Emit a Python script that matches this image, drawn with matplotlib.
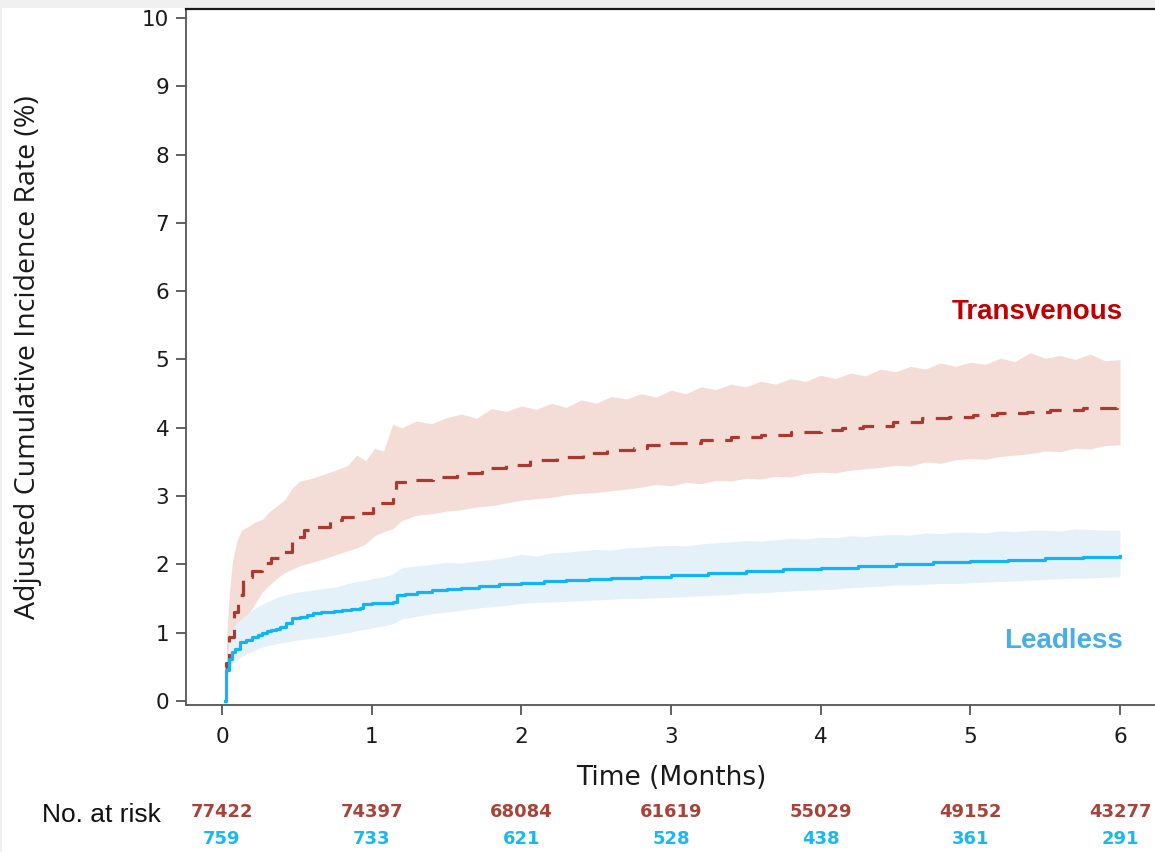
import matplotlib
matplotlib.use("Agg")
import matplotlib.pyplot as plt
from matplotlib.patches import Rectangle

# ---------------- data ----------------
tv_t = [0.02, 0.03, 0.05, 0.08, 0.11, 0.14, 0.2, 0.27, 0.33, 0.39, 0.47, 0.55, 0.61, 0.72, 0.8,
        0.9, 1.01, 1.14, 1.16, 1.26, 1.41, 1.57, 1.74, 1.9, 2.06, 2.24, 2.41, 2.57, 2.75, 2.84,
        3.0, 3.2, 3.4, 3.6, 3.8, 4.0, 4.14, 4.28, 4.48, 4.68, 4.86, 5.02, 5.18, 5.38, 5.53, 5.75,
        5.98, 6.0]
tv_v = [0.5, 0.56, 0.94, 1.3, 1.55, 1.82, 1.9, 2.02, 2.1, 2.18, 2.4, 2.5, 2.55, 2.65, 2.7,
        2.75, 2.9, 3.0, 3.2, 3.23, 3.28, 3.34, 3.41, 3.46, 3.53, 3.57, 3.63, 3.67, 3.7, 3.75,
        3.78, 3.82, 3.86, 3.9, 3.94, 3.97, 4.0, 4.03, 4.08, 4.14, 4.16, 4.19, 4.21, 4.23, 4.26,
        4.29, 4.32, 4.32]

ld_t = [0.02, 0.03, 0.05, 0.07, 0.09, 0.12, 0.16, 0.2, 0.24, 0.27, 0.3, 0.33, 0.36, 0.39, 0.43,
        0.47, 0.52, 0.57, 0.61, 0.66, 0.71, 0.75, 0.8, 0.86, 0.92, 0.94, 1.0, 1.07, 1.14, 1.17,
        1.22, 1.3, 1.4, 1.5, 1.6, 1.72, 1.85, 2.0, 2.15, 2.3, 2.45, 2.6, 2.8, 3.0, 3.25, 3.5,
        3.75, 4.0, 4.25, 4.5, 4.75, 5.0, 5.25, 5.5, 5.75, 6.0]
ld_v = [0.0, 0.45, 0.62, 0.72, 0.76, 0.86, 0.89, 0.93, 0.96, 1.0, 1.02, 1.04, 1.06, 1.08, 1.14,
        1.21, 1.23, 1.26, 1.29, 1.3, 1.31, 1.32, 1.33, 1.35, 1.36, 1.42, 1.43, 1.44, 1.45, 1.55,
        1.57, 1.6, 1.62, 1.64, 1.66, 1.68, 1.71, 1.73, 1.75, 1.77, 1.78, 1.8, 1.82, 1.84, 1.87, 1.9,
        1.93, 1.95, 1.98, 2.0, 2.03, 2.05, 2.07, 2.09, 2.11, 2.12]

# confidence bands (jagged edges)
band_t = [0.03, 0.05, 0.07, 0.1, 0.13, 0.17, 0.22, 0.27, 0.32, 0.37, 0.42, 0.47, 0.52, 0.6, 0.68,
          0.76, 0.84, 0.9, 0.96, 1.02, 1.08, 1.14, 1.2, 1.3, 1.4, 1.5, 1.6, 1.7, 1.8, 1.9,
          2.0, 2.1, 2.2, 2.3, 2.4, 2.5, 2.6, 2.7, 2.8, 2.9, 3.0, 3.1, 3.2, 3.3, 3.4,
          3.5, 3.6, 3.7, 3.8, 3.9, 4.0, 4.1, 4.2, 4.3, 4.4, 4.5, 4.6, 4.7, 4.8, 4.9,
          5.0, 5.1, 5.2, 5.3, 5.4, 5.5, 5.6, 5.7, 5.8, 5.9, 6.0]
tv_hi = [0.95, 1.6, 2.05, 2.35, 2.5, 2.55, 2.62, 2.66, 2.78, 2.86, 2.95, 3.12, 3.22, 3.26, 3.32,
         3.38, 3.45, 3.6, 3.52, 3.7, 3.66, 4.05, 4.0, 4.1, 4.06, 4.15, 4.2, 4.14, 4.28, 4.24,
         4.32, 4.27, 4.36, 4.3, 4.41, 4.36, 4.46, 4.42, 4.5, 4.45, 4.55, 4.5, 4.6, 4.56, 4.64,
         4.6, 4.68, 4.64, 4.72, 4.68, 4.77, 4.72, 4.8, 4.76, 4.86, 4.82, 4.9, 4.86, 4.95, 4.9,
         4.96, 4.93, 5.02, 4.97, 5.1, 5.02, 5.06, 5.0, 5.08, 4.98, 5.0]
tv_lo = [0.55, 0.75, 0.85, 0.95, 1.1, 1.25, 1.42, 1.6, 1.7, 1.8, 1.88, 1.93, 1.98, 2.03, 2.08,
         2.14, 2.2, 2.24, 2.3, 2.42, 2.48, 2.52, 2.64, 2.72, 2.74, 2.78, 2.8, 2.84, 2.86, 2.9,
         2.94, 2.96, 2.98, 3.02, 3.04, 3.05, 3.08, 3.1, 3.13, 3.17, 3.15, 3.2, 3.18, 3.23, 3.22,
         3.26, 3.25, 3.29, 3.28, 3.33, 3.35, 3.34, 3.38, 3.4, 3.42, 3.45, 3.44, 3.5, 3.48, 3.53,
         3.55, 3.54, 3.58, 3.6, 3.62, 3.66, 3.65, 3.7, 3.69, 3.74, 3.75]
ld_hi = [0.5, 0.95, 1.05, 1.15, 1.2, 1.28, 1.36, 1.42, 1.47, 1.52, 1.55, 1.58, 1.6, 1.62, 1.65,
         1.67, 1.72, 1.75, 1.77, 1.8, 1.82, 1.86, 1.95, 1.98, 2.0, 2.03, 2.02, 2.05, 2.07, 2.1,
         2.15, 2.12, 2.17, 2.18, 2.2, 2.22, 2.21, 2.24, 2.25, 2.27, 2.28, 2.27, 2.3, 2.32, 2.33,
         2.35, 2.34, 2.36, 2.38, 2.37, 2.4, 2.39, 2.42, 2.41, 2.43, 2.44, 2.43, 2.46, 2.45, 2.47,
         2.47, 2.46, 2.49, 2.48, 2.5, 2.5, 2.49, 2.52, 2.51, 2.5, 2.5]
ld_lo = [0.3, 0.5, 0.55, 0.6, 0.65, 0.7, 0.75, 0.79, 0.82, 0.84, 0.86, 0.88, 0.9, 0.92, 0.94,
         0.97, 1.0, 1.03, 1.05, 1.08, 1.1, 1.13, 1.2, 1.24, 1.28, 1.3, 1.33, 1.36, 1.38, 1.4,
         1.43, 1.44, 1.45, 1.46, 1.47, 1.48, 1.49, 1.5, 1.5, 1.51, 1.52, 1.53, 1.54, 1.55, 1.56,
         1.58, 1.58, 1.6, 1.61, 1.62, 1.63, 1.64, 1.66, 1.67, 1.68, 1.7, 1.7, 1.71, 1.72, 1.72,
         1.73, 1.74, 1.75, 1.76, 1.77, 1.78, 1.79, 1.8, 1.8, 1.81, 1.82]

x_ticks = [0, 1, 2, 3, 4, 5, 6]
y_ticks = [0, 1, 2, 3, 4, 5, 6, 7, 8, 9, 10]
risk_tv = ["77422", "74397", "68084", "61619", "55029", "49152", "43277"]
risk_ld = ["759", "733", "621", "528", "438", "361", "291"]

# ---------------- style ----------------
C_TV_LINE = "#a83a2f"
C_TV_FILL = "#f5ddd7"
C_TV_LABEL = "#c00000"
C_TV_RISK = "#a8433a"
C_LD_LINE = "#12b5f2"
C_LD_FILL = "#e5f1f9"
C_LD_LABEL = "#47aee6"
C_LD_RISK = "#1ab8f0"

W, H = 1155, 852
fig = plt.figure(figsize=(W / 100, H / 100), dpi=100)
fig.patch.set_facecolor("#f0f0f0")
fig.patches.append(Rectangle((2 / W, 0), 1, (H - 8) / H, transform=fig.transFigure,
                             facecolor="white", edgecolor="none", zorder=-10))

ax_l, ax_r = 186, 1155
ax_top, ax_bot = 9, 705
ax = fig.add_axes([ax_l / W, (H - ax_bot) / H, (ax_r - ax_l) / W, (ax_bot - ax_top) / H])
ax.set_facecolor("none")

px_per_x = (1120 - 222) / 6
ax.set_xlim((ax_l - 222) / px_per_x, (ax_r - 222) / px_per_x)
px_per_y = (701 - 18) / 10
ax.set_ylim(-(ax_bot - 701) / px_per_y, 10 + (18 - ax_top) / px_per_y)

ax.fill_between(band_t, tv_lo, tv_hi, color=C_TV_FILL, lw=0, zorder=1)
ax.fill_between(band_t, ld_lo, ld_hi, color=C_LD_FILL, lw=0, zorder=1)

ax.plot(tv_t, tv_v, drawstyle="steps-post", color=C_TV_LINE, lw=2.3,
        dashes=(5.5, 3.6), zorder=3)
ax.plot(ld_t, ld_v, drawstyle="steps-post", color=C_LD_LINE, lw=2.3, zorder=3)

ax.spines["right"].set_visible(False)
ax.spines["top"].set_color("#1a1a1a")
ax.spines["top"].set_linewidth(1.6)
ax.spines["left"].set_color("#555555")
ax.spines["left"].set_linewidth(1.3)
ax.spines["bottom"].set_color("#555555")
ax.spines["bottom"].set_linewidth(1.3)

ax.set_xticks(x_ticks)
ax.set_yticks(y_ticks)
ax.tick_params(axis="both", direction="out", length=7, width=1.3, color="#555555",
               labelsize=15.5, labelcolor="#1a1a1a", pad=5)
ax.tick_params(axis="x", pad=9)
for lab in ax.get_xticklabels() + ax.get_yticklabels():
    lab.set_family("DejaVu Sans")

ah = ax_bot - ax_top
aw = ax_r - ax_l
ax.set_xlabel("Time (Months)", fontsize=19, family="DejaVu Sans", color="#1a1a1a")
ax.xaxis.set_label_coords((671 - ax_l) / aw, -(765 - ax_bot) / ah)
ax.set_ylabel("Adjusted Cumulative Incidence Rate (%)", fontsize=20.5, family="Open Sans",
              color="#1a1a1a")
ax.yaxis.set_label_coords(-(ax_l - 42) / aw, 0.5)

lab_x = (1123 - 222) / px_per_x
ax.text(lab_x, (701 - 312) / px_per_y, "Transvenous", ha="right", va="center",
        fontsize=20, fontweight="bold", family="Liberation Sans", color=C_TV_LABEL)
ax.text(lab_x, (701 - 641) / px_per_y, "Leadless", ha="right", va="center",
        fontsize=20, fontweight="bold", family="Liberation Sans", color=C_LD_LABEL)

# risk table
trans = ax.get_xaxis_transform()
for x, a, b in zip(x_ticks, risk_tv, risk_ld):
    ax.text(x, (ax_bot - 812) / ah, a, transform=trans, ha="center", va="center",
            fontsize=13, fontweight="bold", family="DejaVu Sans", color=C_TV_RISK, clip_on=False)
    ax.text(x, (ax_bot - 839) / ah, b, transform=trans, ha="center", va="center",
            fontsize=13, fontweight="bold", family="DejaVu Sans", color=C_LD_RISK, clip_on=False)
fig.text(101 / W, (H - 815) / H, "No. at risk", ha="center", va="center", fontsize=19,
         family="Liberation Sans", color="#111111")

fig.savefig("out.png", dpi=100, facecolor=fig.get_facecolor())
